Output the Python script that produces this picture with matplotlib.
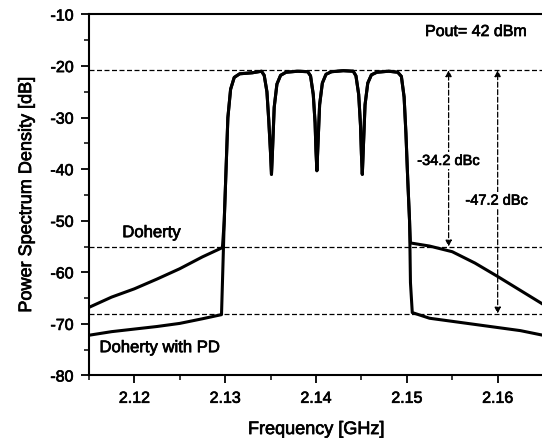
import numpy as np
import matplotlib
matplotlib.use('Agg')
import matplotlib.pyplot as plt
import matplotlib.patheffects as pe
from matplotlib.ticker import MultipleLocator

plt.rcParams['font.family'] = ['Liberation Sans', 'DejaVu Sans']
plt.rcParams['axes.unicode_minus'] = False

# lower adjacent channel (GHz, dB)
doherty_low_f = [2.115, 2.1175, 2.12, 2.1225, 2.125, 2.1275, 2.1297]
doherty_low_p = [-66.8, -64.8, -63.2, -61.3, -59.3, -57.0, -55.2]
pd_low_f = [2.115, 2.1175, 2.12, 2.1225, 2.125, 2.1275, 2.1296]
pd_low_p = [-72.2, -71.5, -71.0, -70.5, -69.9, -69.0, -68.2]

# four-carrier in-band spectrum, shared by both traces
band_f = [2.1299, 2.1301, 2.1303, 2.1306, 2.1310, 2.1316, 2.1330, 2.1340,
          2.1343, 2.1346, 2.1348, 2.1350, 2.1351, 2.1352, 2.1354, 2.1357,
          2.1361, 2.1367, 2.1380, 2.1391, 2.1394, 2.1397, 2.1399, 2.1400,
          2.1401, 2.1402, 2.1404, 2.1407, 2.1411, 2.1417, 2.1430, 2.1441,
          2.1444, 2.1447, 2.1449, 2.1450, 2.1451, 2.1452, 2.1454, 2.1457,
          2.1461, 2.1467, 2.1480, 2.1490, 2.1494, 2.1497, 2.1499, 2.1501,
          2.1503]
band_p = [-50.0, -40.0, -30.0, -24.5, -22.2, -21.5, -21.3, -21.0,
          -21.8, -25.0, -30.5, -37.0, -41.0, -37.0, -28.0, -23.5,
          -21.8, -21.2, -21.0, -21.1, -21.9, -25.5, -31.0, -36.5,
          -40.3, -36.0, -27.5, -23.3, -21.6, -21.1, -20.9, -21.0,
          -21.9, -25.5, -31.5, -37.0, -41.0, -36.5, -27.5, -23.3,
          -21.7, -21.2, -21.0, -21.2, -22.0, -26.0, -33.0, -42.0,
          -50.0]

# upper adjacent channel
doherty_up_f = [2.1504, 2.1525, 2.155, 2.1575, 2.16, 2.1625, 2.165]
doherty_up_p = [-54.3, -54.9, -56.0, -58.2, -60.8, -63.5, -66.2]
pd_up_f = [2.1504, 2.1506, 2.1525, 2.155, 2.1575, 2.16, 2.1625, 2.165]
pd_up_p = [-62.0, -67.8, -68.9, -69.5, -70.1, -70.7, -71.3, -72.2]

ref_level = -20.8
doherty_level = -55.0
pd_level = -68.0

heavy = [pe.withStroke(linewidth=0.5, foreground='black')]


def main():
  fig = plt.figure(figsize=(5.42, 4.39), dpi=100)
  ax = fig.add_axes([0.164, 0.1424, 0.838, 0.8223])

  doherty_f = doherty_low_f + band_f + doherty_up_f
  doherty_p = doherty_low_p + band_p + doherty_up_p
  pd_f = pd_low_f + band_f + pd_up_f
  pd_p = pd_low_p + band_p + pd_up_p

  ax.plot(doherty_f, doherty_p, color='black', lw=2.2, solid_joinstyle='round')
  ax.plot(pd_f, pd_p, color='black', lw=2.2, solid_joinstyle='round')

  for level in (ref_level, doherty_level, pd_level):
    ax.axhline(level, color='black', lw=0.9, ls=(0, (4, 2)))

  # dBc arrows
  for x, lo in ((2.1546, doherty_level), (2.16, pd_level)):
    ax.annotate('', xy=(x, ref_level), xytext=(x, lo),
                arrowprops=dict(arrowstyle='<|-|>', color='black', lw=0.9,
                                ls=(0, (4, 2)), mutation_scale=9, shrinkA=0, shrinkB=0))

  box = dict(facecolor='white', edgecolor='none', pad=1)
  texts = [
    ax.text(2.1546, -38.4, '-34.2 dBc', ha='center', va='center', fontsize=10.5, bbox=box),
    ax.text(2.1599, -46.1, '-47.2 dBc', ha='center', va='center', fontsize=10.5, bbox=box),
    ax.text(2.1576, -13.3, 'Pout= 42 dBm', ha='center', va='center', fontsize=11.5),
    ax.text(2.1219, -52.3, 'Doherty', ha='center', va='center', fontsize=12),
    ax.text(2.1228, -74.6, 'Doherty with PD', ha='center', va='center', fontsize=12),
  ]

  ax.set_xlim(2.115, 2.165)
  ax.set_ylim(-80, -10)
  ax.xaxis.set_minor_locator(MultipleLocator(0.005))
  ax.yaxis.set_major_locator(MultipleLocator(10))
  ax.yaxis.set_minor_locator(MultipleLocator(5))
  ax.set_xticks([2.12, 2.13, 2.14, 2.15, 2.16])
  ax.set_xticklabels(['2.12', '2.13', '2.14', '2.15', '2.16'])
  ax.tick_params(which='major', direction='out', length=6, width=1.3, labelsize=11.5, pad=5)
  ax.tick_params(which='minor', direction='out', length=3.5, width=1.1)

  for side in ('left', 'bottom', 'top'):
    ax.spines[side].set_linewidth(1.5)
  ax.spines['right'].set_visible(False)

  texts.append(ax.set_xlabel('Frequency [GHz]', fontsize=13, labelpad=11))
  texts.append(ax.set_ylabel('Power Spectrum Density [dB]', fontsize=13, labelpad=11))
  texts += ax.get_xticklabels() + ax.get_yticklabels()
  for t in texts:
    t.set_path_effects(heavy)

  fig.savefig('out.png', dpi=100)


if __name__ == '__main__':
  main()
